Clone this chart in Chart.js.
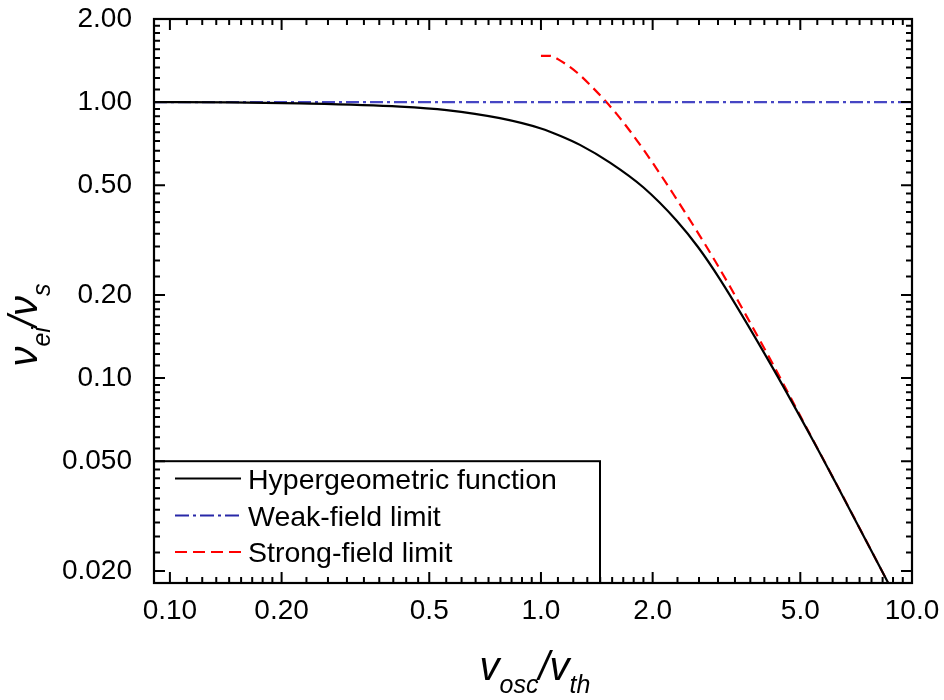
<!DOCTYPE html>
<html><head><meta charset="utf-8">
<script src="https://cdn.jsdelivr.net/npm/chart.js@4.4.1/dist/chart.umd.min.js"></script>
<style>html,body{margin:0;padding:0;background:#fff;} #wrap{width:944px;height:700px;}</style>
</head><body><div id="wrap"><canvas id="c" width="944" height="700"></canvas></div>
<script>
const xTickValues = [0.1, 0.2, 0.5, 1, 2, 5, 10];
const xTickLabels = ['0.10', '0.20', '0.5', '1.0', '2.0', '5.0', '10.0'];
const yTickValues = [0.02, 0.05, 0.1, 0.2, 0.5, 1, 2];
const yTickLabels = ['0.020', '0.050', '0.10', '0.20', '0.50', '1.00', '2.00'];
const xMin = 0.0906, xMax = 10, yMin = 0.0181, yMax = 2.0;

const seriesLabels = ['Hypergeometric function', 'Weak-field limit', 'Strong-field limit'];

const hyperX = [0.0906, 0.1451, 0.224, 0.4169, 0.5568, 0.7751, 1.0, 1.1251, 1.2739, 1.5346, 1.8867, 2.3219, 2.6497, 3.038, 4.143, 5.4205, 6.2005, 8.6856];
const hyperY = [1.0, 0.9975, 0.9892, 0.9632, 0.9355, 0.8743, 0.8023, 0.7555, 0.6997, 0.6036, 0.4913, 0.3718, 0.2985, 0.2278, 0.1133, 0.0592, 0.0422, 0.0178];

const weakX = [0.0906, 10];
const weakY = [1.0, 1.0];

const strongX = [1.0, 1.0574, 1.1134, 1.2502, 1.3554, 1.4877, 1.603, 1.7376, 1.9067, 2.0506, 2.2734, 2.4706, 2.7673, 2.9444, 3.2317, 3.5839, 4.143, 5.4205, 6.2005, 8.6856];
const strongY = [1.4716, 1.4716, 1.4281, 1.2801, 1.1548, 1.0126, 0.9025, 0.7857, 0.6612, 0.5733, 0.4645, 0.3903, 0.3056, 0.2661, 0.2146, 0.1674, 0.1174, 0.0594, 0.0423, 0.0178];

const FONT = "'Liberation Sans', Arial, Helvetica, sans-serif";
const pts = (xs, ys) => xs.map((x, i) => ({x: x, y: ys[i]}));

const legendStyles = [
  {color: '#000000', dash: []},
  {color: '#2828a8', dash: [14, 4, 3, 4]},
  {color: '#ff0000', dash: [12, 6]}
];

function minorValues(majors) {
  const out = [];
  for (let i = 0; i < majors.length - 1; i++) {
    const a = majors[i], b = majors[i + 1];
    for (let k = 1; k <= 8; k++) out.push(a + k * (b - a) / 9);
  }
  return out;
}

const framePlugin = {
  id: 'framePlugin',
  afterDatasetsDraw(chart) {
    const ctx = chart.ctx, ca = chart.chartArea;
    const xs = chart.scales.x, ys = chart.scales.y;
    ctx.save();
    // legend box
    const lx0 = ca.left, ly0 = ys.getPixelForValue(0.05), lx1 = 600, ly1 = ca.bottom;
    ctx.fillStyle = '#fff';
    ctx.fillRect(lx0, ly0, lx1 - lx0, ly1 - ly0);
    ctx.strokeStyle = '#000'; ctx.lineWidth = 2; ctx.setLineDash([]);
    ctx.strokeRect(lx0, ly0, lx1 - lx0, ly1 - ly0);
    const rowY = [478.5, 515.5, 552];
    chart.data.datasets.forEach((ds, i) => {
      const y = rowY[i];
      ctx.beginPath();
      ctx.strokeStyle = legendStyles[i].color;
      ctx.lineWidth = 2.2;
      ctx.setLineDash(legendStyles[i].dash);
      ctx.moveTo(175, y); ctx.lineTo(241, y); ctx.stroke();
      ctx.setLineDash([]);
      ctx.fillStyle = '#000';
      ctx.font = '28.5px ' + FONT;
      ctx.textBaseline = 'alphabetic';
      ctx.textAlign = 'left';
      ctx.fillText(ds.label, 248, y + 10);
    });
    // frame
    ctx.strokeStyle = '#000'; ctx.lineWidth = 2.2; ctx.setLineDash([]);
    ctx.strokeRect(ca.left, ca.top, ca.right - ca.left, ca.bottom - ca.top);
    // ticks
    const MAJ = 11, MIN = 6;
    ctx.lineWidth = 2;
    ctx.beginPath();
    const xt = (v, len) => {
      const p = xs.getPixelForValue(v);
      ctx.moveTo(p, ca.bottom); ctx.lineTo(p, ca.bottom - len);
      ctx.moveTo(p, ca.top); ctx.lineTo(p, ca.top + len);
    };
    const yt = (v, len) => {
      const p = ys.getPixelForValue(v);
      ctx.moveTo(ca.left, p); ctx.lineTo(ca.left + len, p);
      ctx.moveTo(ca.right, p); ctx.lineTo(ca.right - len, p);
    };
    xTickValues.forEach(v => xt(v, MAJ));
    minorValues(xTickValues).forEach(v => xt(v, MIN));
    yTickValues.forEach(v => yt(v, MAJ));
    minorValues(yTickValues).forEach(v => yt(v, MIN));
    ctx.stroke();
    ctx.restore();
  },
  afterDraw(chart) {
    const ctx = chart.ctx, ca = chart.chartArea;
    ctx.save();
    ctx.fillStyle = '#000';
    ctx.textBaseline = 'alphabetic';
    ctx.textAlign = 'left';
    const big = 'italic 40px ' + FONT, small = 'italic 25px ' + FONT;
    function drawParts(parts, cx, baseY) {
      let w = 0;
      parts.forEach(p => { ctx.font = p.f; w += ctx.measureText(p.t).width; });
      let x = cx - w / 2;
      parts.forEach(p => { ctx.font = p.f; ctx.fillText(p.t, x, baseY + p.dy); x += ctx.measureText(p.t).width; });
    }
    // x title
    drawParts([
      {t: 'v', f: big, dy: 0}, {t: 'osc', f: small, dy: 13},
      {t: '/', f: big, dy: 0}, {t: 'v', f: big, dy: 0}, {t: 'th', f: small, dy: 13}
    ], (ca.left + ca.right) / 2 + 2, 680);
    // y title
    ctx.translate(37, 325);
    ctx.rotate(-Math.PI / 2);
    drawParts([
      {t: 'ν', f: big, dy: 0}, {t: 'ei', f: small, dy: 13},
      {t: '/', f: big, dy: 0}, {t: 'ν', f: big, dy: 0}, {t: 's', f: small, dy: 13}
    ], 0, 0);
    ctx.restore();
  }
};

new Chart(document.getElementById('c'), {
  type: 'line',
  data: {
    datasets: [
      {label: seriesLabels[0], data: pts(hyperX, hyperY), borderColor: '#000000', borderWidth: 2.2,
       pointRadius: 0, cubicInterpolationMode: 'monotone', fill: false},
      {label: seriesLabels[1], data: pts(weakX, weakY), borderColor: '#4646c4', borderWidth: 2.4,
       borderDash: [13, 4, 3, 4], pointRadius: 0, fill: false},
      {label: seriesLabels[2], data: pts(strongX, strongY), borderColor: '#ff0000', borderWidth: 2.2,
       borderDash: [10, 6], pointRadius: 0, cubicInterpolationMode: 'monotone', fill: false}
    ]
  },
  options: {
    responsive: false,
    animation: false,
    layout: {padding: {left: 0, top: 19, right: 32, bottom: 0}},
    plugins: {legend: {display: false}, tooltip: {enabled: false}, title: {display: false}},
    scales: {
      x: {
        type: 'logarithmic', min: xMin, max: xMax,
        grid: {display: false}, border: {display: false},
        afterBuildTicks: s => { s.ticks = xTickValues.map(v => ({value: v})); },
        afterFit: s => { s.height = 117; s.paddingLeft = 0; s.paddingRight = 0; s.paddingTop = 0; s.paddingBottom = 0; },
        ticks: {
          autoSkip: false, maxRotation: 0, padding: 3, color: '#000',
          font: {family: FONT, size: 28},
          callback: (v) => { const i = xTickValues.findIndex(t => Math.abs(t - v) / t < 1e-6); return i >= 0 ? xTickLabels[i] : ''; }
        }
      },
      y: {
        type: 'logarithmic', min: yMin, max: yMax,
        grid: {display: false}, border: {display: false},
        afterBuildTicks: s => { s.ticks = yTickValues.map(v => ({value: v})); },
        afterFit: s => { s.width = 154; s.paddingLeft = 0; s.paddingRight = 0; s.paddingTop = 0; s.paddingBottom = 0; },
        ticks: {
          autoSkip: false, padding: 14, color: '#000',
          font: {family: FONT, size: 28},
          callback: (v) => { const i = yTickValues.findIndex(t => Math.abs(t - v) / t < 1e-6); return i >= 0 ? yTickLabels[i] : ''; }
        }
      }
    }
  },
  plugins: [framePlugin]
});
</script></body></html>
